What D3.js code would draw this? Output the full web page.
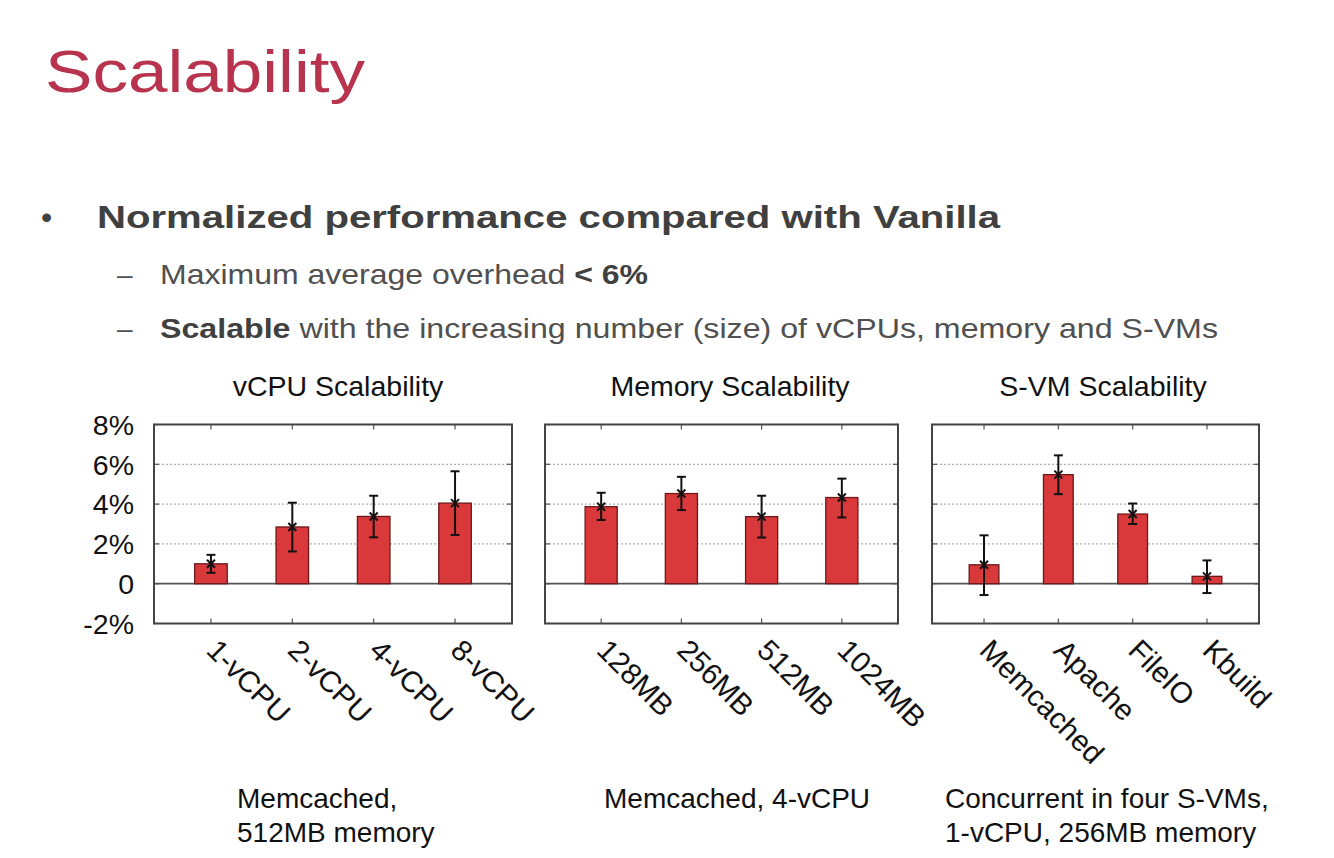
<!DOCTYPE html>
<html>
<head>
<meta charset="utf-8">
<script src="https://cdn.jsdelivr.net/npm/d3@7/dist/d3.min.js"></script>
<style>
  html, body { margin: 0; padding: 0; background: #fff; }
  svg { display: block; font-family: "Liberation Sans", Arial, sans-serif; }
</style>
</head>
<body>
<svg id="chart" width="1334" height="858"></svg>
<script>
// ---- data ----
const yTickValues = [-2, 0, 2, 4, 6, 8];
const yTickLabels = ["-2%", "0", "2%", "4%", "6%", "8%"];
const gridValues = [2, 4, 6];

const vcpuCats = ["1-vCPU", "2-vCPU", "4-vCPU", "8-vCPU"];
const vcpuMean = [1.0, 2.85, 3.38, 4.05];
const vcpuLow  = [0.55, 1.62, 2.33, 2.45];
const vcpuHigh = [1.45, 4.07, 4.42, 5.65];

const memCats = ["128MB", "256MB", "512MB", "1024MB"];
const memMean = [3.87, 4.53, 3.37, 4.33];
const memLow  = [3.2, 3.7, 2.32, 3.33];
const memHigh = [4.57, 5.37, 4.42, 5.28];

const svmCats = ["Memcached", "Apache", "FileIO", "Kbuild"];
const svmMean = [0.95, 5.48, 3.5, 0.37];
const svmLow  = [-0.57, 4.5, 3.0, -0.47];
const svmHigh = [2.43, 6.45, 4.03, 1.17];

const panelTitles = ["vCPU Scalability", "Memory Scalability", "S-VM Scalability"];
const captions = [["Memcached,", "512MB memory"], ["Memcached, 4-vCPU"], ["Concurrent in four S-VMs,", "1-vCPU, 256MB memory"]];

// ---- layout ----
const svg = d3.select("#chart");
const yTop = 424.5, yBot = 623.5;
const y = d3.scaleLinear().domain([-2, 8]).range([yBot, yTop]);

const panels = [
  { left: 154, right: 512, cats: vcpuCats, mean: vcpuMean, low: vcpuLow, high: vcpuHigh, titleX: 338, capX: 237, yLabels: true },
  { left: 545, right: 898, cats: memCats, mean: memMean, low: memLow, high: memHigh, titleX: 730, capX: 604, yLabels: false },
  { left: 932, right: 1259, cats: svmCats, mean: svmMean, low: svmLow, high: svmHigh, titleX: 1103, capX: 945, yLabels: false }
];

// ---- slide text ----
svg.append("text").attr("x", 45).attr("y", 92)
  .attr("font-size", 60).attr("fill", "#b8334d")
  .attr("textLength", 320).attr("lengthAdjust", "spacingAndGlyphs")
  .text("Scalability");

svg.append("text").attr("x", 41).attr("y", 228).attr("font-size", 32).attr("fill", "#404040").text("•");
svg.append("text").attr("x", 97).attr("y", 228)
  .attr("font-size", 32).attr("font-weight", "bold").attr("fill", "#404040")
  .attr("textLength", 903).attr("lengthAdjust", "spacingAndGlyphs")
  .text("Normalized performance compared with Vanilla");

svg.append("text").attr("x", 117).attr("y", 284).attr("font-size", 28).attr("fill", "#505050").text("–");
const t1 = svg.append("text").attr("x", 160).attr("y", 284)
  .attr("font-size", 28).attr("fill", "#505050")
  .attr("textLength", 488).attr("lengthAdjust", "spacingAndGlyphs");
t1.append("tspan").text("Maximum average overhead ");
t1.append("tspan").attr("font-weight", "bold").attr("fill", "#404040").text("< 6%");

svg.append("text").attr("x", 117).attr("y", 338).attr("font-size", 28).attr("fill", "#505050").text("–");
const t2 = svg.append("text").attr("x", 160).attr("y", 338)
  .attr("font-size", 28).attr("fill", "#505050")
  .attr("textLength", 1058).attr("lengthAdjust", "spacingAndGlyphs");
t2.append("tspan").attr("font-weight", "bold").attr("fill", "#404040").text("Scalable");
t2.append("tspan").text(" with the increasing number (size) of vCPUs, memory and S-VMs");

// ---- panels ----
panels.forEach((p, pi) => {
  const x = d3.scalePoint().domain(p.cats).range([p.left, p.right]).padding(0.7);
  const step = x.step();
  const bw = step * 0.4;
  const g = svg.append("g");

  // grid lines
  g.selectAll(".grid").data(gridValues).join("line")
    .attr("x1", p.left).attr("x2", p.right)
    .attr("y1", d => y(d)).attr("y2", d => y(d))
    .attr("stroke", "#b0b0b0").attr("stroke-width", 1.2).attr("stroke-dasharray", "2,2");

  // zero line
  g.append("line").attr("x1", p.left).attr("x2", p.right)
    .attr("y1", y(0)).attr("y2", y(0))
    .attr("stroke", "#555").attr("stroke-width", 1.8);

  // y ticks (inner, both sides)
  g.selectAll(".ytl").data(yTickValues).join("line")
    .attr("x1", p.left).attr("x2", p.left + 5)
    .attr("y1", d => y(d)).attr("y2", d => y(d))
    .attr("stroke", "#555").attr("stroke-width", 1.2);
  g.selectAll(".ytr").data(yTickValues).join("line")
    .attr("x1", p.right).attr("x2", p.right - 5)
    .attr("y1", d => y(d)).attr("y2", d => y(d))
    .attr("stroke", "#555").attr("stroke-width", 1.2);

  // x ticks (inner top and bottom)
  g.selectAll(".xtb").data(p.cats).join("line")
    .attr("x1", d => x(d)).attr("x2", d => x(d))
    .attr("y1", yBot).attr("y2", yBot - 5)
    .attr("stroke", "#555").attr("stroke-width", 1.2);
  g.selectAll(".xtt").data(p.cats).join("line")
    .attr("x1", d => x(d)).attr("x2", d => x(d))
    .attr("y1", yTop).attr("y2", yTop + 5)
    .attr("stroke", "#555").attr("stroke-width", 1.2);

  const rows = p.cats.map((c, i) => ({ c, m: p.mean[i], lo: p.low[i], hi: p.high[i] }));

  // bars
  g.selectAll(".bar").data(rows).join("rect")
    .attr("x", d => x(d.c) - bw / 2).attr("width", bw)
    .attr("y", d => y(Math.max(0, d.m)))
    .attr("height", d => Math.abs(y(d.m) - y(0)))
    .attr("fill", "#d9393b").attr("stroke", "#6e1818").attr("stroke-width", 1.3);

  // error bars
  const cap = 4.5;
  const eb = g.selectAll(".eb").data(rows).join("g");
  eb.append("line").attr("x1", d => x(d.c)).attr("x2", d => x(d.c))
    .attr("y1", d => y(d.lo)).attr("y2", d => y(d.hi))
    .attr("stroke", "#111").attr("stroke-width", 2);
  eb.append("line").attr("x1", d => x(d.c) - cap).attr("x2", d => x(d.c) + cap)
    .attr("y1", d => y(d.hi)).attr("y2", d => y(d.hi))
    .attr("stroke", "#111").attr("stroke-width", 2);
  eb.append("line").attr("x1", d => x(d.c) - cap).attr("x2", d => x(d.c) + cap)
    .attr("y1", d => y(d.lo)).attr("y2", d => y(d.lo))
    .attr("stroke", "#111").attr("stroke-width", 2);
  // x markers
  const mk = 4;
  eb.append("path")
    .attr("d", d => {
      const cx = x(d.c), cy = y(d.m);
      return `M${cx - mk},${cy - mk}L${cx + mk},${cy + mk}M${cx - mk},${cy + mk}L${cx + mk},${cy - mk}`;
    })
    .attr("stroke", "#111").attr("stroke-width", 2).attr("fill", "none");

  // frame
  g.append("rect").attr("x", p.left).attr("y", yTop)
    .attr("width", p.right - p.left).attr("height", yBot - yTop)
    .attr("fill", "none").attr("stroke", "#444").attr("stroke-width", 2);

  // y labels
  if (p.yLabels) {
    g.selectAll(".yl").data(yTickValues).join("text")
      .attr("x", 134).attr("y", d => y(d)).attr("dy", "0.36em")
      .attr("text-anchor", "end").attr("font-size", 28.5).attr("fill", "#111")
      .text((d, i) => yTickLabels[i]);
  }

  // x labels, rotated
  g.selectAll(".xl").data(p.cats).join("text")
    .attr("transform", d => `translate(${x(d) - 6},${652}) rotate(45)`)
    .attr("font-size", 29.5).attr("fill", "#111")
    .text(d => d);

  // panel title
  svg.append("text").attr("x", p.titleX).attr("y", 396)
    .attr("text-anchor", "middle").attr("font-size", 28.5).attr("fill", "#111")
    .text(panelTitles[pi]);

  // caption
  captions[pi].forEach((line, li) => {
    svg.append("text").attr("x", p.capX).attr("y", 808 + li * 33.5)
      .attr("font-size", 28).attr("fill", "#111").text(line);
  });
});
</script>
</body>
</html>
